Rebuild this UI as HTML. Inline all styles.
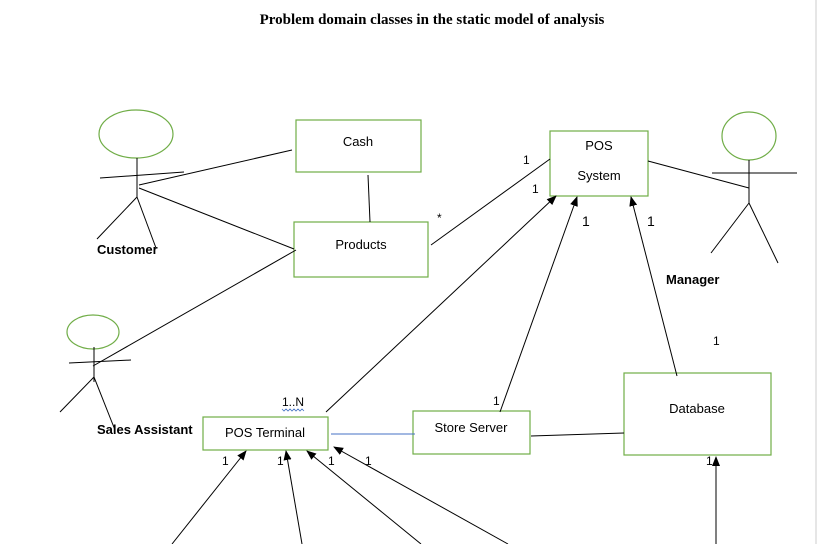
<!DOCTYPE html>
<html><head><style>body{margin:0;background:#fff}svg{display:block}</style></head><body>
<svg width="818" height="544" xmlns="http://www.w3.org/2000/svg" font-family="Liberation Sans, sans-serif" font-size="12">
<defs><marker id="a" markerWidth="10" markerHeight="10" refX="9" refY="5" orient="auto" markerUnits="userSpaceOnUse"><path d="M0,1 L10,5 L0,9 z" fill="#000"/></marker></defs>
<line x1="816" y1="0" x2="816" y2="544" stroke="#ccc"/>
<text x="432" y="24" text-anchor="middle" font-family="Liberation Serif, serif" font-weight="bold" font-size="15">Problem domain classes in the static model of analysis</text>
<g fill="none" stroke="#70ad47" stroke-width="1.2">
<rect x="296" y="120" width="125" height="52"/>
<rect x="294" y="222" width="134" height="55"/>
<rect x="550" y="131" width="98" height="65"/>
<rect x="624" y="373" width="147" height="82"/>
<rect x="203" y="417" width="125" height="33"/>
<rect x="413" y="411" width="117" height="43"/>
<ellipse cx="136" cy="134" rx="37" ry="24"/>
<ellipse cx="93" cy="332" rx="26" ry="17"/>
<ellipse cx="749" cy="136" rx="27" ry="24"/>
</g>
<g stroke="#000" stroke-width="1" fill="none">
<line x1="137" y1="158" x2="137" y2="197"/><line x1="100" y1="178" x2="184" y2="172"/><line x1="137" y1="197" x2="97" y2="239"/><line x1="137" y1="197" x2="156" y2="248"/>
<line x1="139" y1="185" x2="292" y2="150"/><line x1="139" y1="188" x2="294" y2="249"/>
<line x1="94" y1="347" x2="94" y2="382"/><line x1="69" y1="363" x2="131" y2="360"/><line x1="94" y1="377" x2="60" y2="412"/><line x1="94" y1="377" x2="115" y2="430"/>
<line x1="93" y1="366" x2="296" y2="250"/>
<line x1="749" y1="160" x2="749" y2="203"/><line x1="712" y1="173" x2="797" y2="173"/><line x1="749" y1="203" x2="711" y2="253"/><line x1="749" y1="203" x2="778" y2="263"/>
<line x1="648" y1="161" x2="749" y2="188"/>
<line x1="368" y1="175" x2="370" y2="222"/>
<line x1="431" y1="245" x2="550" y2="159"/>
<line x1="326" y1="412" x2="556" y2="196" marker-end="url(#a)"/>
<line x1="500" y1="412" x2="577" y2="197" marker-end="url(#a)"/>
<line x1="677" y1="376" x2="631" y2="197" marker-end="url(#a)"/>
<line x1="716" y1="544" x2="716" y2="457" marker-end="url(#a)"/>
<line x1="172" y1="544" x2="246" y2="451" marker-end="url(#a)"/>
<line x1="302" y1="544" x2="286" y2="451" marker-end="url(#a)"/>
<line x1="421" y1="544" x2="307" y2="451" marker-end="url(#a)"/>
<line x1="508" y1="544" x2="334" y2="447" marker-end="url(#a)"/>
<line x1="531" y1="436" x2="624" y2="433"/>
</g>
<line x1="331" y1="434" x2="415" y2="434" stroke="#4472c4"/>
<g fill="#000">
<text x="358" y="146" text-anchor="middle" font-size="13">Cash</text>
<text x="361" y="249" text-anchor="middle" font-size="13">Products</text>
<text x="599" y="150" text-anchor="middle" font-size="13">POS</text>
<text x="599" y="180" text-anchor="middle" font-size="13">System</text>
<text x="697" y="413" text-anchor="middle" font-size="13">Database</text>
<text x="265" y="437" text-anchor="middle" font-size="13">POS Terminal</text>
<text x="471" y="432" text-anchor="middle" font-size="13">Store Server</text>
<text x="97" y="254" font-weight="bold" font-size="13">Customer</text>
<text x="97" y="434" font-weight="bold" font-size="13">Sales Assistant</text>
<text x="666" y="284" font-weight="bold" font-size="13">Manager</text>
<text x="523" y="164">1</text><text x="532" y="193">1</text><text x="437" y="222">*</text>
<text x="582" y="226" font-size="14">1</text><text x="647" y="226" font-size="14">1</text>
<text x="713" y="345">1</text><text x="493" y="405">1</text>
<text x="282" y="406">1..N</text>
<text x="222" y="465">1</text><text x="277" y="465">1</text><text x="328" y="465">1</text><text x="365" y="465">1</text><text x="706" y="465">1</text>
</g>
<path d="M282,409 l2,2 l2,-2 l2,2 l2,-2 l2,2 l2,-2 l2,2 l2,-2 l2,2 l2,-2 l2,2" stroke="#4472c4" fill="none" stroke-width="0.8"/>
</svg>
</body></html>
